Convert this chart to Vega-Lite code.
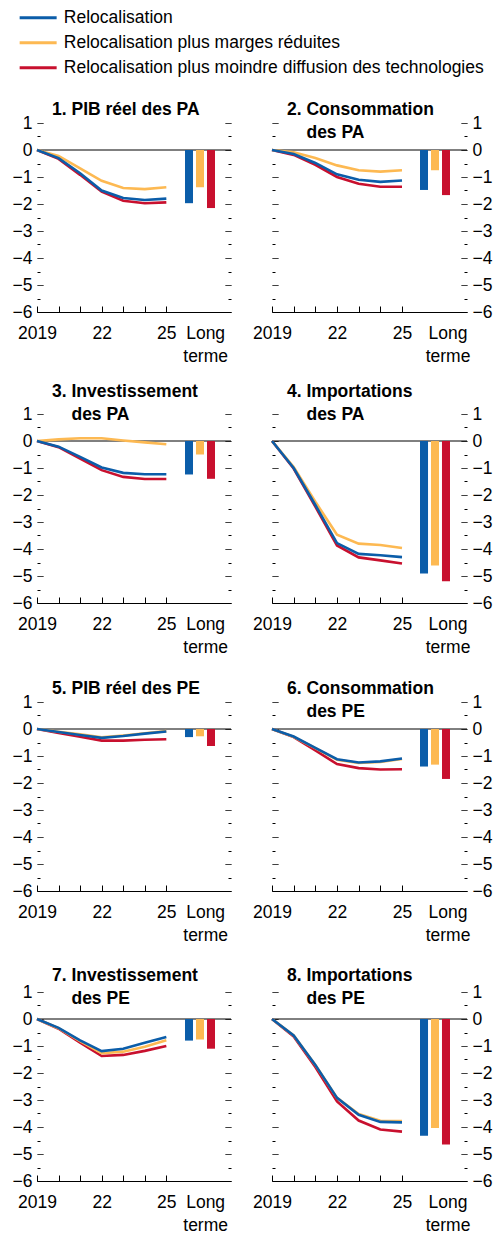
{
"$schema": "https://vega.github.io/schema/vega-lite/v6.json",
"padding": {"left": 12, "top": 9, "right": 5, "bottom": 0},
"background": "white",
"datasets": {
"lines": [
{"panel":1,"scenario":"Relocalisation plus moindre diffusion des technologies","year":2019,"value":0},
{"panel":1,"scenario":"Relocalisation plus moindre diffusion des technologies","year":2020,"value":-0.33},
{"panel":1,"scenario":"Relocalisation plus moindre diffusion des technologies","year":2021,"value":-0.92},
{"panel":1,"scenario":"Relocalisation plus moindre diffusion des technologies","year":2022,"value":-1.54},
{"panel":1,"scenario":"Relocalisation plus moindre diffusion des technologies","year":2023,"value":-1.88},
{"panel":1,"scenario":"Relocalisation plus moindre diffusion des technologies","year":2024,"value":-1.97},
{"panel":1,"scenario":"Relocalisation plus moindre diffusion des technologies","year":2025,"value":-1.94},
{"panel":1,"scenario":"Relocalisation plus marges réduites","year":2019,"value":0},
{"panel":1,"scenario":"Relocalisation plus marges réduites","year":2020,"value":-0.22},
{"panel":1,"scenario":"Relocalisation plus marges réduites","year":2021,"value":-0.68},
{"panel":1,"scenario":"Relocalisation plus marges réduites","year":2022,"value":-1.14},
{"panel":1,"scenario":"Relocalisation plus marges réduites","year":2023,"value":-1.41},
{"panel":1,"scenario":"Relocalisation plus marges réduites","year":2024,"value":-1.45},
{"panel":1,"scenario":"Relocalisation plus marges réduites","year":2025,"value":-1.38},
{"panel":1,"scenario":"Relocalisation","year":2019,"value":0},
{"panel":1,"scenario":"Relocalisation","year":2020,"value":-0.30},
{"panel":1,"scenario":"Relocalisation","year":2021,"value":-0.86},
{"panel":1,"scenario":"Relocalisation","year":2022,"value":-1.50},
{"panel":1,"scenario":"Relocalisation","year":2023,"value":-1.78},
{"panel":1,"scenario":"Relocalisation","year":2024,"value":-1.85},
{"panel":1,"scenario":"Relocalisation","year":2025,"value":-1.80},

{"panel":2,"scenario":"Relocalisation plus moindre diffusion des technologies","year":2019,"value":0},
{"panel":2,"scenario":"Relocalisation plus moindre diffusion des technologies","year":2020,"value":-0.18},
{"panel":2,"scenario":"Relocalisation plus moindre diffusion des technologies","year":2021,"value":-0.55},
{"panel":2,"scenario":"Relocalisation plus moindre diffusion des technologies","year":2022,"value":-1.00},
{"panel":2,"scenario":"Relocalisation plus moindre diffusion des technologies","year":2023,"value":-1.25},
{"panel":2,"scenario":"Relocalisation plus moindre diffusion des technologies","year":2024,"value":-1.36},
{"panel":2,"scenario":"Relocalisation plus moindre diffusion des technologies","year":2025,"value":-1.36},
{"panel":2,"scenario":"Relocalisation plus marges réduites","year":2019,"value":0},
{"panel":2,"scenario":"Relocalisation plus marges réduites","year":2020,"value":-0.08},
{"panel":2,"scenario":"Relocalisation plus marges réduites","year":2021,"value":-0.30},
{"panel":2,"scenario":"Relocalisation plus marges réduites","year":2022,"value":-0.57},
{"panel":2,"scenario":"Relocalisation plus marges réduites","year":2023,"value":-0.75},
{"panel":2,"scenario":"Relocalisation plus marges réduites","year":2024,"value":-0.80},
{"panel":2,"scenario":"Relocalisation plus marges réduites","year":2025,"value":-0.75},
{"panel":2,"scenario":"Relocalisation","year":2019,"value":0},
{"panel":2,"scenario":"Relocalisation","year":2020,"value":-0.15},
{"panel":2,"scenario":"Relocalisation","year":2021,"value":-0.48},
{"panel":2,"scenario":"Relocalisation","year":2022,"value":-0.90},
{"panel":2,"scenario":"Relocalisation","year":2023,"value":-1.10},
{"panel":2,"scenario":"Relocalisation","year":2024,"value":-1.18},
{"panel":2,"scenario":"Relocalisation","year":2025,"value":-1.13},

{"panel":3,"scenario":"Relocalisation plus moindre diffusion des technologies","year":2019,"value":0},
{"panel":3,"scenario":"Relocalisation plus moindre diffusion des technologies","year":2020,"value":-0.23},
{"panel":3,"scenario":"Relocalisation plus moindre diffusion des technologies","year":2021,"value":-0.65},
{"panel":3,"scenario":"Relocalisation plus moindre diffusion des technologies","year":2022,"value":-1.08},
{"panel":3,"scenario":"Relocalisation plus moindre diffusion des technologies","year":2023,"value":-1.33},
{"panel":3,"scenario":"Relocalisation plus moindre diffusion des technologies","year":2024,"value":-1.41},
{"panel":3,"scenario":"Relocalisation plus moindre diffusion des technologies","year":2025,"value":-1.41},
{"panel":3,"scenario":"Relocalisation plus marges réduites","year":2019,"value":0},
{"panel":3,"scenario":"Relocalisation plus marges réduites","year":2020,"value":0.06},
{"panel":3,"scenario":"Relocalisation plus marges réduites","year":2021,"value":0.10},
{"panel":3,"scenario":"Relocalisation plus marges réduites","year":2022,"value":0.10},
{"panel":3,"scenario":"Relocalisation plus marges réduites","year":2023,"value":0.02},
{"panel":3,"scenario":"Relocalisation plus marges réduites","year":2024,"value":-0.05},
{"panel":3,"scenario":"Relocalisation plus marges réduites","year":2025,"value":-0.12},
{"panel":3,"scenario":"Relocalisation","year":2019,"value":0},
{"panel":3,"scenario":"Relocalisation","year":2020,"value":-0.21},
{"panel":3,"scenario":"Relocalisation","year":2021,"value":-0.59},
{"panel":3,"scenario":"Relocalisation","year":2022,"value":-0.98},
{"panel":3,"scenario":"Relocalisation","year":2023,"value":-1.18},
{"panel":3,"scenario":"Relocalisation","year":2024,"value":-1.23},
{"panel":3,"scenario":"Relocalisation","year":2025,"value":-1.23},

{"panel":4,"scenario":"Relocalisation plus moindre diffusion des technologies","year":2019,"value":0},
{"panel":4,"scenario":"Relocalisation plus moindre diffusion des technologies","year":2020,"value":-1.02},
{"panel":4,"scenario":"Relocalisation plus moindre diffusion des technologies","year":2021,"value":-2.43},
{"panel":4,"scenario":"Relocalisation plus moindre diffusion des technologies","year":2022,"value":-3.87},
{"panel":4,"scenario":"Relocalisation plus moindre diffusion des technologies","year":2023,"value":-4.31},
{"panel":4,"scenario":"Relocalisation plus moindre diffusion des technologies","year":2024,"value":-4.42},
{"panel":4,"scenario":"Relocalisation plus moindre diffusion des technologies","year":2025,"value":-4.54},
{"panel":4,"scenario":"Relocalisation plus marges réduites","year":2019,"value":0},
{"panel":4,"scenario":"Relocalisation plus marges réduites","year":2020,"value":-0.96},
{"panel":4,"scenario":"Relocalisation plus marges réduites","year":2021,"value":-2.25},
{"panel":4,"scenario":"Relocalisation plus marges réduites","year":2022,"value":-3.47},
{"panel":4,"scenario":"Relocalisation plus marges réduites","year":2023,"value":-3.80},
{"panel":4,"scenario":"Relocalisation plus marges réduites","year":2024,"value":-3.85},
{"panel":4,"scenario":"Relocalisation plus marges réduites","year":2025,"value":-3.96},
{"panel":4,"scenario":"Relocalisation","year":2019,"value":0},
{"panel":4,"scenario":"Relocalisation","year":2020,"value":-1.00},
{"panel":4,"scenario":"Relocalisation","year":2021,"value":-2.37},
{"panel":4,"scenario":"Relocalisation","year":2022,"value":-3.78},
{"panel":4,"scenario":"Relocalisation","year":2023,"value":-4.18},
{"panel":4,"scenario":"Relocalisation","year":2024,"value":-4.23},
{"panel":4,"scenario":"Relocalisation","year":2025,"value":-4.30},

{"panel":5,"scenario":"Relocalisation plus moindre diffusion des technologies","year":2019,"value":0},
{"panel":5,"scenario":"Relocalisation plus moindre diffusion des technologies","year":2020,"value":-0.15},
{"panel":5,"scenario":"Relocalisation plus moindre diffusion des technologies","year":2021,"value":-0.29},
{"panel":5,"scenario":"Relocalisation plus moindre diffusion des technologies","year":2022,"value":-0.43},
{"panel":5,"scenario":"Relocalisation plus moindre diffusion des technologies","year":2023,"value":-0.43},
{"panel":5,"scenario":"Relocalisation plus moindre diffusion des technologies","year":2024,"value":-0.40},
{"panel":5,"scenario":"Relocalisation plus moindre diffusion des technologies","year":2025,"value":-0.38},
{"panel":5,"scenario":"Relocalisation plus marges réduites","year":2019,"value":0},
{"panel":5,"scenario":"Relocalisation plus marges réduites","year":2020,"value":-0.10},
{"panel":5,"scenario":"Relocalisation plus marges réduites","year":2021,"value":-0.20},
{"panel":5,"scenario":"Relocalisation plus marges réduites","year":2022,"value":-0.31},
{"panel":5,"scenario":"Relocalisation plus marges réduites","year":2023,"value":-0.24},
{"panel":5,"scenario":"Relocalisation plus marges réduites","year":2024,"value":-0.16},
{"panel":5,"scenario":"Relocalisation plus marges réduites","year":2025,"value":-0.08},
{"panel":5,"scenario":"Relocalisation","year":2019,"value":0},
{"panel":5,"scenario":"Relocalisation","year":2020,"value":-0.11},
{"panel":5,"scenario":"Relocalisation","year":2021,"value":-0.22},
{"panel":5,"scenario":"Relocalisation","year":2022,"value":-0.33},
{"panel":5,"scenario":"Relocalisation","year":2023,"value":-0.26},
{"panel":5,"scenario":"Relocalisation","year":2024,"value":-0.17},
{"panel":5,"scenario":"Relocalisation","year":2025,"value":-0.09},

{"panel":6,"scenario":"Relocalisation plus moindre diffusion des technologies","year":2019,"value":0},
{"panel":6,"scenario":"Relocalisation plus moindre diffusion des technologies","year":2020,"value":-0.30},
{"panel":6,"scenario":"Relocalisation plus moindre diffusion des technologies","year":2021,"value":-0.79},
{"panel":6,"scenario":"Relocalisation plus moindre diffusion des technologies","year":2022,"value":-1.30},
{"panel":6,"scenario":"Relocalisation plus moindre diffusion des technologies","year":2023,"value":-1.45},
{"panel":6,"scenario":"Relocalisation plus moindre diffusion des technologies","year":2024,"value":-1.50},
{"panel":6,"scenario":"Relocalisation plus moindre diffusion des technologies","year":2025,"value":-1.49},
{"panel":6,"scenario":"Relocalisation plus marges réduites","year":2019,"value":0},
{"panel":6,"scenario":"Relocalisation plus marges réduites","year":2020,"value":-0.29},
{"panel":6,"scenario":"Relocalisation plus marges réduites","year":2021,"value":-0.71},
{"panel":6,"scenario":"Relocalisation plus marges réduites","year":2022,"value":-1.14},
{"panel":6,"scenario":"Relocalisation plus marges réduites","year":2023,"value":-1.26},
{"panel":6,"scenario":"Relocalisation plus marges réduites","year":2024,"value":-1.22},
{"panel":6,"scenario":"Relocalisation plus marges réduites","year":2025,"value":-1.11},
{"panel":6,"scenario":"Relocalisation","year":2019,"value":0},
{"panel":6,"scenario":"Relocalisation","year":2020,"value":-0.28},
{"panel":6,"scenario":"Relocalisation","year":2021,"value":-0.70},
{"panel":6,"scenario":"Relocalisation","year":2022,"value":-1.12},
{"panel":6,"scenario":"Relocalisation","year":2023,"value":-1.24},
{"panel":6,"scenario":"Relocalisation","year":2024,"value":-1.20},
{"panel":6,"scenario":"Relocalisation","year":2025,"value":-1.09},

{"panel":7,"scenario":"Relocalisation plus moindre diffusion des technologies","year":2019,"value":0},
{"panel":7,"scenario":"Relocalisation plus moindre diffusion des technologies","year":2020,"value":-0.36},
{"panel":7,"scenario":"Relocalisation plus moindre diffusion des technologies","year":2021,"value":-0.88},
{"panel":7,"scenario":"Relocalisation plus moindre diffusion des technologies","year":2022,"value":-1.37},
{"panel":7,"scenario":"Relocalisation plus moindre diffusion des technologies","year":2023,"value":-1.33},
{"panel":7,"scenario":"Relocalisation plus moindre diffusion des technologies","year":2024,"value":-1.18},
{"panel":7,"scenario":"Relocalisation plus moindre diffusion des technologies","year":2025,"value":-1.00},
{"panel":7,"scenario":"Relocalisation plus marges réduites","year":2019,"value":0},
{"panel":7,"scenario":"Relocalisation plus marges réduites","year":2020,"value":-0.34},
{"panel":7,"scenario":"Relocalisation plus marges réduites","year":2021,"value":-0.82},
{"panel":7,"scenario":"Relocalisation plus marges réduites","year":2022,"value":-1.27},
{"panel":7,"scenario":"Relocalisation plus marges réduites","year":2023,"value":-1.21},
{"panel":7,"scenario":"Relocalisation plus marges réduites","year":2024,"value":-1.03},
{"panel":7,"scenario":"Relocalisation plus marges réduites","year":2025,"value":-0.79},
{"panel":7,"scenario":"Relocalisation","year":2019,"value":0},
{"panel":7,"scenario":"Relocalisation","year":2020,"value":-0.33},
{"panel":7,"scenario":"Relocalisation","year":2021,"value":-0.79},
{"panel":7,"scenario":"Relocalisation","year":2022,"value":-1.19},
{"panel":7,"scenario":"Relocalisation","year":2023,"value":-1.10},
{"panel":7,"scenario":"Relocalisation","year":2024,"value":-0.88},
{"panel":7,"scenario":"Relocalisation","year":2025,"value":-0.67},

{"panel":8,"scenario":"Relocalisation plus moindre diffusion des technologies","year":2019,"value":0},
{"panel":8,"scenario":"Relocalisation plus moindre diffusion des technologies","year":2020,"value":-0.65},
{"panel":8,"scenario":"Relocalisation plus moindre diffusion des technologies","year":2021,"value":-1.78},
{"panel":8,"scenario":"Relocalisation plus moindre diffusion des technologies","year":2022,"value":-3.05},
{"panel":8,"scenario":"Relocalisation plus moindre diffusion des technologies","year":2023,"value":-3.76},
{"panel":8,"scenario":"Relocalisation plus moindre diffusion des technologies","year":2024,"value":-4.09},
{"panel":8,"scenario":"Relocalisation plus moindre diffusion des technologies","year":2025,"value":-4.17},
{"panel":8,"scenario":"Relocalisation plus marges réduites","year":2019,"value":0},
{"panel":8,"scenario":"Relocalisation plus marges réduites","year":2020,"value":-0.61},
{"panel":8,"scenario":"Relocalisation plus marges réduites","year":2021,"value":-1.70},
{"panel":8,"scenario":"Relocalisation plus marges réduites","year":2022,"value":-2.92},
{"panel":8,"scenario":"Relocalisation plus marges réduites","year":2023,"value":-3.52},
{"panel":8,"scenario":"Relocalisation plus marges réduites","year":2024,"value":-3.77},
{"panel":8,"scenario":"Relocalisation plus marges réduites","year":2025,"value":-3.78},
{"panel":8,"scenario":"Relocalisation","year":2019,"value":0},
{"panel":8,"scenario":"Relocalisation","year":2020,"value":-0.61},
{"panel":8,"scenario":"Relocalisation","year":2021,"value":-1.70},
{"panel":8,"scenario":"Relocalisation","year":2022,"value":-2.92},
{"panel":8,"scenario":"Relocalisation","year":2023,"value":-3.55},
{"panel":8,"scenario":"Relocalisation","year":2024,"value":-3.81},
{"panel":8,"scenario":"Relocalisation","year":2025,"value":-3.83}
],
"bars": [
{"panel":1,"scenario":"Relocalisation","value":-1.97},
{"panel":1,"scenario":"Relocalisation plus marges réduites","value":-1.38},
{"panel":1,"scenario":"Relocalisation plus moindre diffusion des technologies","value":-2.15},
{"panel":2,"scenario":"Relocalisation","value":-1.48},
{"panel":2,"scenario":"Relocalisation plus marges réduites","value":-0.75},
{"panel":2,"scenario":"Relocalisation plus moindre diffusion des technologies","value":-1.67},
{"panel":3,"scenario":"Relocalisation","value":-1.24},
{"panel":3,"scenario":"Relocalisation plus marges réduites","value":-0.50},
{"panel":3,"scenario":"Relocalisation plus moindre diffusion des technologies","value":-1.40},
{"panel":4,"scenario":"Relocalisation","value":-4.91},
{"panel":4,"scenario":"Relocalisation plus marges réduites","value":-4.61},
{"panel":4,"scenario":"Relocalisation plus moindre diffusion des technologies","value":-5.19},
{"panel":5,"scenario":"Relocalisation","value":-0.30},
{"panel":5,"scenario":"Relocalisation plus marges réduites","value":-0.27},
{"panel":5,"scenario":"Relocalisation plus moindre diffusion des technologies","value":-0.63},
{"panel":6,"scenario":"Relocalisation","value":-1.39},
{"panel":6,"scenario":"Relocalisation plus marges réduites","value":-1.32},
{"panel":6,"scenario":"Relocalisation plus moindre diffusion des technologies","value":-1.85},
{"panel":7,"scenario":"Relocalisation","value":-0.80},
{"panel":7,"scenario":"Relocalisation plus marges réduites","value":-0.76},
{"panel":7,"scenario":"Relocalisation plus moindre diffusion des technologies","value":-1.10},
{"panel":8,"scenario":"Relocalisation","value":-4.32},
{"panel":8,"scenario":"Relocalisation plus marges réduites","value":-4.04},
{"panel":8,"scenario":"Relocalisation plus moindre diffusion des technologies","value":-4.65}
]
},
"vconcat": [
{"vconcat": [
{"hconcat": [
{"width": 194, "height": 189, "title": {"text": "1. PIB réel des PA", "offset": -4},
 "resolve": {"scale": {"x": "independent"}, "axis": {"x": "independent", "y": "independent"}},
 "layer": [
  {"data": {"values": [{"zero": 0}]}, "mark": {"type": "rule", "color": "black", "strokeWidth": 1},
   "encoding": {"y": {"field": "zero", "type": "quantitative", "scale": {"domain": [-6, 1], "nice": false}, "axis": null}}},
  {"data": {"name": "lines"}, "transform": [{"filter": "datum.panel == 1"}], "mark": {"type": "line", "strokeWidth": 2.6},
   "encoding": {
    "x": {"field": "year", "type": "quantitative", "title": null, "scale": {"domain": [2019, 2028], "nice": false, "zero": false}, "axis": {"values": [2019, 2020, 2021, 2022, 2023, 2024, 2025, 2026.8]}},
    "y": {"field": "value", "type": "quantitative", "title": null, "scale": {"domain": [-6, 1], "nice": false}, "axis": {"orient": "left", "labels": true, "values": [1, 0.5, 0, -0.5, -1, -1.5, -2, -2.5, -3, -3.5, -4, -4.5, -5, -5.5, -6]}},
    "color": {"field": "scenario", "type": "nominal", "title": null, "scale": {"domain": ["Relocalisation", "Relocalisation plus marges réduites", "Relocalisation plus moindre diffusion des technologies"], "range": ["#0B5DA9", "#FDB952", "#C8102E"]}}}},
  {"data": {"name": "bars"}, "transform": [{"filter": "datum.panel == 1"}], "mark": {"type": "bar"},
   "encoding": {
    "x": {"field": "scenario", "type": "nominal", "scale": {"domain": ["Relocalisation", "Relocalisation plus marges réduites", "Relocalisation plus moindre diffusion des technologies"], "range": [148, 178], "paddingInner": 0.27, "paddingOuter": 0}, "axis": null},
    "y": {"field": "value", "type": "quantitative", "title": null, "scale": {"domain": [-6, 1], "nice": false}, "axis": {"orient": "right", "labels": false, "values": [1, 0.5, 0, -0.5, -1, -1.5, -2, -2.5, -3, -3.5, -4, -4.5, -5, -5.5, -6]}},
    "color": {"field": "scenario", "type": "nominal", "title": null, "scale": {"domain": ["Relocalisation", "Relocalisation plus marges réduites", "Relocalisation plus moindre diffusion des technologies"], "range": ["#0B5DA9", "#FDB952", "#C8102E"]}}}}
 ]},
{"width": 195, "height": 189, "title": {"text": ["2. Consommation", "\u200b\u00a0\u00a0\u00a0\u00a0des PA"], "offset": -27},
 "resolve": {"scale": {"x": "independent"}, "axis": {"x": "independent", "y": "independent"}},
 "layer": [
  {"data": {"values": [{"zero": 0}]}, "mark": {"type": "rule", "color": "black", "strokeWidth": 1},
   "encoding": {"y": {"field": "zero", "type": "quantitative", "scale": {"domain": [-6, 1], "nice": false}, "axis": null}}},
  {"data": {"name": "lines"}, "transform": [{"filter": "datum.panel == 2"}], "mark": {"type": "line", "strokeWidth": 2.6},
   "encoding": {
    "x": {"field": "year", "type": "quantitative", "title": null, "scale": {"domain": [2019, 2028], "nice": false, "zero": false}, "axis": {"values": [2019, 2020, 2021, 2022, 2023, 2024, 2025, 2027.1]}},
    "y": {"field": "value", "type": "quantitative", "title": null, "scale": {"domain": [-6, 1], "nice": false}, "axis": {"orient": "left", "labels": false, "values": [1, 0.5, 0, -0.5, -1, -1.5, -2, -2.5, -3, -3.5, -4, -4.5, -5, -5.5, -6]}},
    "color": {"field": "scenario", "type": "nominal", "title": null, "scale": {"domain": ["Relocalisation", "Relocalisation plus marges réduites", "Relocalisation plus moindre diffusion des technologies"], "range": ["#0B5DA9", "#FDB952", "#C8102E"]}}}},
  {"data": {"name": "bars"}, "transform": [{"filter": "datum.panel == 2"}], "mark": {"type": "bar"},
   "encoding": {
    "x": {"field": "scenario", "type": "nominal", "scale": {"domain": ["Relocalisation", "Relocalisation plus marges réduites", "Relocalisation plus moindre diffusion des technologies"], "range": [148, 178], "paddingInner": 0.27, "paddingOuter": 0}, "axis": null},
    "y": {"field": "value", "type": "quantitative", "title": null, "scale": {"domain": [-6, 1], "nice": false}, "axis": {"orient": "right", "labels": true, "values": [1, 0.5, 0, -0.5, -1, -1.5, -2, -2.5, -3, -3.5, -4, -4.5, -5, -5.5, -6]}},
    "color": {"field": "scenario", "type": "nominal", "title": null, "scale": {"domain": ["Relocalisation", "Relocalisation plus marges réduites", "Relocalisation plus moindre diffusion des technologies"], "range": ["#0B5DA9", "#FDB952", "#C8102E"]}}}}
 ]}
], "spacing": 20},
{"hconcat": [
{"width": 194, "height": 189, "title": {"text": ["3. Investissement", "\u200b\u00a0\u00a0\u00a0\u00a0des PA"], "offset": -18},
 "resolve": {"scale": {"x": "independent"}, "axis": {"x": "independent", "y": "independent"}},
 "layer": [
  {"data": {"values": [{"zero": 0}]}, "mark": {"type": "rule", "color": "black", "strokeWidth": 1},
   "encoding": {"y": {"field": "zero", "type": "quantitative", "scale": {"domain": [-6, 1], "nice": false}, "axis": null}}},
  {"data": {"name": "lines"}, "transform": [{"filter": "datum.panel == 3"}], "mark": {"type": "line", "strokeWidth": 2.6},
   "encoding": {
    "x": {"field": "year", "type": "quantitative", "title": null, "scale": {"domain": [2019, 2028], "nice": false, "zero": false}, "axis": {"values": [2019, 2020, 2021, 2022, 2023, 2024, 2025, 2026.8]}},
    "y": {"field": "value", "type": "quantitative", "title": null, "scale": {"domain": [-6, 1], "nice": false}, "axis": {"orient": "left", "labels": true, "values": [1, 0.5, 0, -0.5, -1, -1.5, -2, -2.5, -3, -3.5, -4, -4.5, -5, -5.5, -6]}},
    "color": {"field": "scenario", "type": "nominal", "title": null, "scale": {"domain": ["Relocalisation", "Relocalisation plus marges réduites", "Relocalisation plus moindre diffusion des technologies"], "range": ["#0B5DA9", "#FDB952", "#C8102E"]}}}},
  {"data": {"name": "bars"}, "transform": [{"filter": "datum.panel == 3"}], "mark": {"type": "bar"},
   "encoding": {
    "x": {"field": "scenario", "type": "nominal", "scale": {"domain": ["Relocalisation", "Relocalisation plus marges réduites", "Relocalisation plus moindre diffusion des technologies"], "range": [148, 178], "paddingInner": 0.27, "paddingOuter": 0}, "axis": null},
    "y": {"field": "value", "type": "quantitative", "title": null, "scale": {"domain": [-6, 1], "nice": false}, "axis": {"orient": "right", "labels": false, "values": [1, 0.5, 0, -0.5, -1, -1.5, -2, -2.5, -3, -3.5, -4, -4.5, -5, -5.5, -6]}},
    "color": {"field": "scenario", "type": "nominal", "title": null, "scale": {"domain": ["Relocalisation", "Relocalisation plus marges réduites", "Relocalisation plus moindre diffusion des technologies"], "range": ["#0B5DA9", "#FDB952", "#C8102E"]}}}}
 ]},
{"width": 195, "height": 189, "title": {"text": ["4. Importations", "\u200b\u00a0\u00a0\u00a0\u00a0des PA"], "offset": -18},
 "resolve": {"scale": {"x": "independent"}, "axis": {"x": "independent", "y": "independent"}},
 "layer": [
  {"data": {"values": [{"zero": 0}]}, "mark": {"type": "rule", "color": "black", "strokeWidth": 1},
   "encoding": {"y": {"field": "zero", "type": "quantitative", "scale": {"domain": [-6, 1], "nice": false}, "axis": null}}},
  {"data": {"name": "lines"}, "transform": [{"filter": "datum.panel == 4"}], "mark": {"type": "line", "strokeWidth": 2.6},
   "encoding": {
    "x": {"field": "year", "type": "quantitative", "title": null, "scale": {"domain": [2019, 2028], "nice": false, "zero": false}, "axis": {"values": [2019, 2020, 2021, 2022, 2023, 2024, 2025, 2027.1]}},
    "y": {"field": "value", "type": "quantitative", "title": null, "scale": {"domain": [-6, 1], "nice": false}, "axis": {"orient": "left", "labels": false, "values": [1, 0.5, 0, -0.5, -1, -1.5, -2, -2.5, -3, -3.5, -4, -4.5, -5, -5.5, -6]}},
    "color": {"field": "scenario", "type": "nominal", "title": null, "scale": {"domain": ["Relocalisation", "Relocalisation plus marges réduites", "Relocalisation plus moindre diffusion des technologies"], "range": ["#0B5DA9", "#FDB952", "#C8102E"]}}}},
  {"data": {"name": "bars"}, "transform": [{"filter": "datum.panel == 4"}], "mark": {"type": "bar"},
   "encoding": {
    "x": {"field": "scenario", "type": "nominal", "scale": {"domain": ["Relocalisation", "Relocalisation plus marges réduites", "Relocalisation plus moindre diffusion des technologies"], "range": [148, 178], "paddingInner": 0.27, "paddingOuter": 0}, "axis": null},
    "y": {"field": "value", "type": "quantitative", "title": null, "scale": {"domain": [-6, 1], "nice": false}, "axis": {"orient": "right", "labels": true, "values": [1, 0.5, 0, -0.5, -1, -1.5, -2, -2.5, -3, -3.5, -4, -4.5, -5, -5.5, -6]}},
    "color": {"field": "scenario", "type": "nominal", "title": null, "scale": {"domain": ["Relocalisation", "Relocalisation plus marges réduites", "Relocalisation plus moindre diffusion des technologies"], "range": ["#0B5DA9", "#FDB952", "#C8102E"]}}}}
 ]}
], "spacing": 20}
], "spacing": 17},
{"vconcat": [
{"hconcat": [
{"width": 194, "height": 189, "title": {"text": "5. PIB réel des PE", "offset": -4},
 "resolve": {"scale": {"x": "independent"}, "axis": {"x": "independent", "y": "independent"}},
 "layer": [
  {"data": {"values": [{"zero": 0}]}, "mark": {"type": "rule", "color": "black", "strokeWidth": 1},
   "encoding": {"y": {"field": "zero", "type": "quantitative", "scale": {"domain": [-6, 1], "nice": false}, "axis": null}}},
  {"data": {"name": "lines"}, "transform": [{"filter": "datum.panel == 5"}], "mark": {"type": "line", "strokeWidth": 2.6},
   "encoding": {
    "x": {"field": "year", "type": "quantitative", "title": null, "scale": {"domain": [2019, 2028], "nice": false, "zero": false}, "axis": {"values": [2019, 2020, 2021, 2022, 2023, 2024, 2025, 2026.8]}},
    "y": {"field": "value", "type": "quantitative", "title": null, "scale": {"domain": [-6, 1], "nice": false}, "axis": {"orient": "left", "labels": true, "values": [1, 0.5, 0, -0.5, -1, -1.5, -2, -2.5, -3, -3.5, -4, -4.5, -5, -5.5, -6]}},
    "color": {"field": "scenario", "type": "nominal", "title": null, "scale": {"domain": ["Relocalisation", "Relocalisation plus marges réduites", "Relocalisation plus moindre diffusion des technologies"], "range": ["#0B5DA9", "#FDB952", "#C8102E"]}}}},
  {"data": {"name": "bars"}, "transform": [{"filter": "datum.panel == 5"}], "mark": {"type": "bar"},
   "encoding": {
    "x": {"field": "scenario", "type": "nominal", "scale": {"domain": ["Relocalisation", "Relocalisation plus marges réduites", "Relocalisation plus moindre diffusion des technologies"], "range": [148, 178], "paddingInner": 0.27, "paddingOuter": 0}, "axis": null},
    "y": {"field": "value", "type": "quantitative", "title": null, "scale": {"domain": [-6, 1], "nice": false}, "axis": {"orient": "right", "labels": false, "values": [1, 0.5, 0, -0.5, -1, -1.5, -2, -2.5, -3, -3.5, -4, -4.5, -5, -5.5, -6]}},
    "color": {"field": "scenario", "type": "nominal", "title": null, "scale": {"domain": ["Relocalisation", "Relocalisation plus marges réduites", "Relocalisation plus moindre diffusion des technologies"], "range": ["#0B5DA9", "#FDB952", "#C8102E"]}}}}
 ]},
{"width": 195, "height": 189, "title": {"text": ["6. Consommation", "\u200b\u00a0\u00a0\u00a0\u00a0des PE"], "offset": -27},
 "resolve": {"scale": {"x": "independent"}, "axis": {"x": "independent", "y": "independent"}},
 "layer": [
  {"data": {"values": [{"zero": 0}]}, "mark": {"type": "rule", "color": "black", "strokeWidth": 1},
   "encoding": {"y": {"field": "zero", "type": "quantitative", "scale": {"domain": [-6, 1], "nice": false}, "axis": null}}},
  {"data": {"name": "lines"}, "transform": [{"filter": "datum.panel == 6"}], "mark": {"type": "line", "strokeWidth": 2.6},
   "encoding": {
    "x": {"field": "year", "type": "quantitative", "title": null, "scale": {"domain": [2019, 2028], "nice": false, "zero": false}, "axis": {"values": [2019, 2020, 2021, 2022, 2023, 2024, 2025, 2027.1]}},
    "y": {"field": "value", "type": "quantitative", "title": null, "scale": {"domain": [-6, 1], "nice": false}, "axis": {"orient": "left", "labels": false, "values": [1, 0.5, 0, -0.5, -1, -1.5, -2, -2.5, -3, -3.5, -4, -4.5, -5, -5.5, -6]}},
    "color": {"field": "scenario", "type": "nominal", "title": null, "scale": {"domain": ["Relocalisation", "Relocalisation plus marges réduites", "Relocalisation plus moindre diffusion des technologies"], "range": ["#0B5DA9", "#FDB952", "#C8102E"]}}}},
  {"data": {"name": "bars"}, "transform": [{"filter": "datum.panel == 6"}], "mark": {"type": "bar"},
   "encoding": {
    "x": {"field": "scenario", "type": "nominal", "scale": {"domain": ["Relocalisation", "Relocalisation plus marges réduites", "Relocalisation plus moindre diffusion des technologies"], "range": [148, 178], "paddingInner": 0.27, "paddingOuter": 0}, "axis": null},
    "y": {"field": "value", "type": "quantitative", "title": null, "scale": {"domain": [-6, 1], "nice": false}, "axis": {"orient": "right", "labels": true, "values": [1, 0.5, 0, -0.5, -1, -1.5, -2, -2.5, -3, -3.5, -4, -4.5, -5, -5.5, -6]}},
    "color": {"field": "scenario", "type": "nominal", "title": null, "scale": {"domain": ["Relocalisation", "Relocalisation plus marges réduites", "Relocalisation plus moindre diffusion des technologies"], "range": ["#0B5DA9", "#FDB952", "#C8102E"]}}}}
 ]}
], "spacing": 20},
{"hconcat": [
{"width": 194, "height": 189, "title": {"text": ["7. Investissement", "\u200b\u00a0\u00a0\u00a0\u00a0des PE"], "offset": -24},
 "resolve": {"scale": {"x": "independent"}, "axis": {"x": "independent", "y": "independent"}},
 "layer": [
  {"data": {"values": [{"zero": 0}]}, "mark": {"type": "rule", "color": "black", "strokeWidth": 1},
   "encoding": {"y": {"field": "zero", "type": "quantitative", "scale": {"domain": [-6, 1], "nice": false}, "axis": null}}},
  {"data": {"name": "lines"}, "transform": [{"filter": "datum.panel == 7"}], "mark": {"type": "line", "strokeWidth": 2.6},
   "encoding": {
    "x": {"field": "year", "type": "quantitative", "title": null, "scale": {"domain": [2019, 2028], "nice": false, "zero": false}, "axis": {"values": [2019, 2020, 2021, 2022, 2023, 2024, 2025, 2026.8]}},
    "y": {"field": "value", "type": "quantitative", "title": null, "scale": {"domain": [-6, 1], "nice": false}, "axis": {"orient": "left", "labels": true, "values": [1, 0.5, 0, -0.5, -1, -1.5, -2, -2.5, -3, -3.5, -4, -4.5, -5, -5.5, -6]}},
    "color": {"field": "scenario", "type": "nominal", "title": null, "scale": {"domain": ["Relocalisation", "Relocalisation plus marges réduites", "Relocalisation plus moindre diffusion des technologies"], "range": ["#0B5DA9", "#FDB952", "#C8102E"]}}}},
  {"data": {"name": "bars"}, "transform": [{"filter": "datum.panel == 7"}], "mark": {"type": "bar"},
   "encoding": {
    "x": {"field": "scenario", "type": "nominal", "scale": {"domain": ["Relocalisation", "Relocalisation plus marges réduites", "Relocalisation plus moindre diffusion des technologies"], "range": [148, 178], "paddingInner": 0.27, "paddingOuter": 0}, "axis": null},
    "y": {"field": "value", "type": "quantitative", "title": null, "scale": {"domain": [-6, 1], "nice": false}, "axis": {"orient": "right", "labels": false, "values": [1, 0.5, 0, -0.5, -1, -1.5, -2, -2.5, -3, -3.5, -4, -4.5, -5, -5.5, -6]}},
    "color": {"field": "scenario", "type": "nominal", "title": null, "scale": {"domain": ["Relocalisation", "Relocalisation plus marges réduites", "Relocalisation plus moindre diffusion des technologies"], "range": ["#0B5DA9", "#FDB952", "#C8102E"]}}}}
 ]},
{"width": 195, "height": 189, "title": {"text": ["8. Importations", "\u200b\u00a0\u00a0\u00a0\u00a0des PE"], "offset": -24},
 "resolve": {"scale": {"x": "independent"}, "axis": {"x": "independent", "y": "independent"}},
 "layer": [
  {"data": {"values": [{"zero": 0}]}, "mark": {"type": "rule", "color": "black", "strokeWidth": 1},
   "encoding": {"y": {"field": "zero", "type": "quantitative", "scale": {"domain": [-6, 1], "nice": false}, "axis": null}}},
  {"data": {"name": "lines"}, "transform": [{"filter": "datum.panel == 8"}], "mark": {"type": "line", "strokeWidth": 2.6},
   "encoding": {
    "x": {"field": "year", "type": "quantitative", "title": null, "scale": {"domain": [2019, 2028], "nice": false, "zero": false}, "axis": {"values": [2019, 2020, 2021, 2022, 2023, 2024, 2025, 2027.1]}},
    "y": {"field": "value", "type": "quantitative", "title": null, "scale": {"domain": [-6, 1], "nice": false}, "axis": {"orient": "left", "labels": false, "values": [1, 0.5, 0, -0.5, -1, -1.5, -2, -2.5, -3, -3.5, -4, -4.5, -5, -5.5, -6]}},
    "color": {"field": "scenario", "type": "nominal", "title": null, "scale": {"domain": ["Relocalisation", "Relocalisation plus marges réduites", "Relocalisation plus moindre diffusion des technologies"], "range": ["#0B5DA9", "#FDB952", "#C8102E"]}}}},
  {"data": {"name": "bars"}, "transform": [{"filter": "datum.panel == 8"}], "mark": {"type": "bar"},
   "encoding": {
    "x": {"field": "scenario", "type": "nominal", "scale": {"domain": ["Relocalisation", "Relocalisation plus marges réduites", "Relocalisation plus moindre diffusion des technologies"], "range": [148, 178], "paddingInner": 0.27, "paddingOuter": 0}, "axis": null},
    "y": {"field": "value", "type": "quantitative", "title": null, "scale": {"domain": [-6, 1], "nice": false}, "axis": {"orient": "right", "labels": true, "values": [1, 0.5, 0, -0.5, -1, -1.5, -2, -2.5, -3, -3.5, -4, -4.5, -5, -5.5, -6]}},
    "color": {"field": "scenario", "type": "nominal", "title": null, "scale": {"domain": ["Relocalisation", "Relocalisation plus marges réduites", "Relocalisation plus moindre diffusion des technologies"], "range": ["#0B5DA9", "#FDB952", "#C8102E"]}}}}
 ]}
], "spacing": 20}
], "spacing": 22}
],
"spacing": 23,
"config": {
 "view": {"stroke": null},
 "font": "Liberation Sans",
 "title": {"font": "Liberation Sans", "fontSize": 17.5, "fontWeight": "bold", "color": "black", "anchor": "start", "frame": "group", "dx": 15, "lineHeight": 23},
 "axis": {"labelFont": "Liberation Sans", "labelFontSize": 17.5, "labelColor": "black", "grid": false, "tickWidth": 1},
 "axisX": {"domainColor": "black", "domainWidth": 1, "tickColor": {"condition": {"test": "datum.value > 2026", "value": "transparent"}, "value": "black"}, "tickSize": -6, "labelPadding": 18, "labelFlush": false, "labelOverlap": false, "labelBaseline": "top", "labelLineHeight": 23, "labelExpr": "datum.value == 2019 ? '2019' : datum.value == 2022 ? '22' : datum.value == 2025 ? '25' : datum.value > 2026 ? ['Long', 'terme'] : ''"},
 "axisY": {"domain": false, "tickColor": "black", "tickSize": -6, "tickDash": {"condition": {"test": "datum.value % 1 != 0", "value": [3, 20]}, "value": [1, 0]}, "labelPadding": 11, "labelOverlap": false, "labelFlush": false, "labelExpr": "datum.value % 1 == 0 ? format(datum.value, 'd') : ''"},
 "legend": {"orient": "top", "direction": "vertical", "symbolType": "M-6.525,0H2.725", "symbolSize": 64, "symbolStrokeWidth": 3, "labelFont": "Liberation Sans", "labelFontSize": 17.5, "labelColor": "black", "labelOffset": 9.3, "rowPadding": 6, "padding": 0, "offset": 23.5, "labelLimit": 600}
}
}
